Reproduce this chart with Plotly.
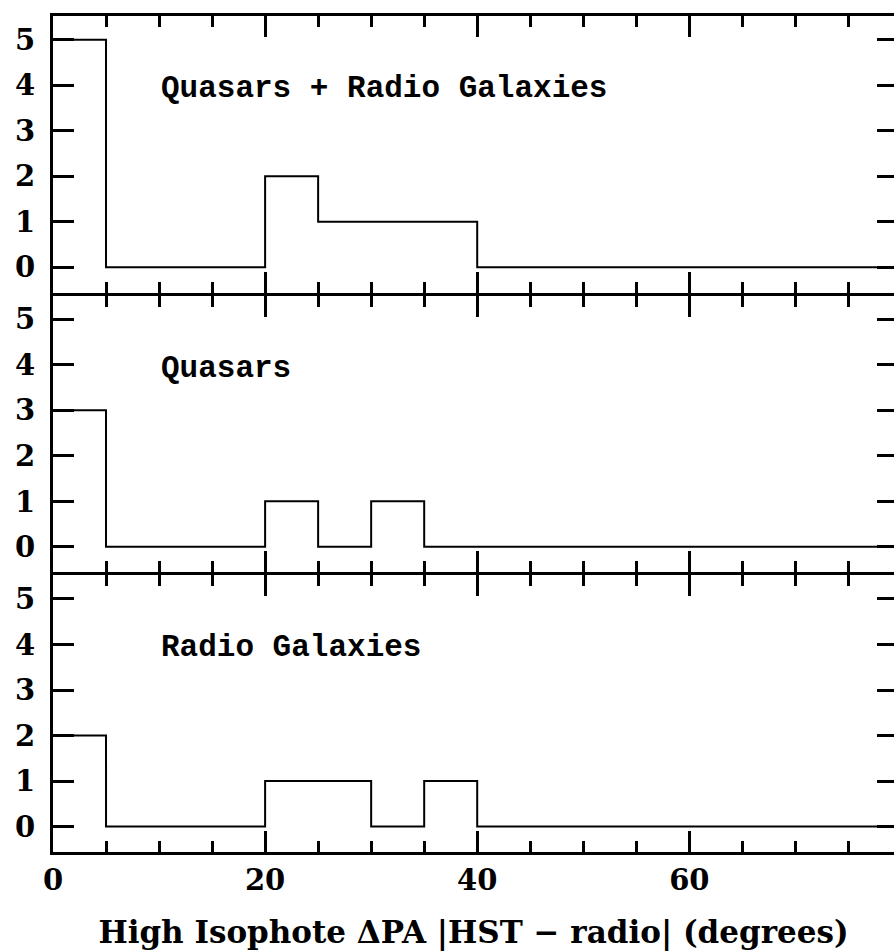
import plotly.graph_objects as go

# Bin edges (degrees) and histogram counts per 5-degree bin
bin_edges = [0, 5, 10, 15, 20, 25, 30, 35, 40, 45, 50, 55, 60, 65, 70, 75, 80]
counts_all = [5, 0, 0, 0, 2, 1, 1, 1, 0, 0, 0, 0, 0, 0, 0, 0]
counts_quasars = [3, 0, 0, 0, 1, 0, 1, 0, 0, 0, 0, 0, 0, 0, 0, 0]
counts_radio = [2, 0, 0, 0, 1, 1, 0, 1, 0, 0, 0, 0, 0, 0, 0, 0]

panel_labels = ["Quasars + Radio Galaxies", "Quasars", "Radio Galaxies"]
panel_counts = [counts_all, counts_quasars, counts_radio]

x_title = "High Isophote ΔPA |HST − radio| (degrees)"
x_tickvals = [0, 20, 40, 60]
y_tickvals = [0, 1, 2, 3, 4, 5]

XRANGE = [0, 79.3]
YRANGE = [-0.56, 5.52]

W, H = 894, 951
M_L, M_R, M_T, M_B = 53, 0, 16, 99
plot_h = H - M_T - M_B
gap = 3.0 / plot_h
n = len(panel_counts)
panel_frac = (1 - gap * (n - 1)) / n

fig = go.Figure()

tick_font = dict(family="DejaVu Serif", size=29, color="black", weight="bold")
label_font = dict(family="Liberation Mono, DejaVu Sans Mono, monospace", size=31, color="black", weight="bold")
title_font = dict(family="DejaVu Serif", size=31, color="black", weight="bold")

for i, (counts, label) in enumerate(zip(panel_counts, panel_labels)):
    idx = i + 1
    xa = "x" if idx == 1 else f"x{idx}"
    ya = "y" if idx == 1 else f"y{idx}"
    yr = f"y{idx + n}"
    ys = counts + [counts[-1]]
    fig.add_trace(go.Scatter(
        x=bin_edges, y=ys, mode="lines", line=dict(shape="hv", color="black", width=2),
        xaxis=xa, yaxis=ya, showlegend=False, hoverinfo="skip"))
    # invisible companion trace for the right-hand tick axis
    fig.add_trace(go.Scatter(
        x=bin_edges, y=ys, mode="lines", line=dict(width=0), opacity=0,
        xaxis=xa, yaxis=yr, showlegend=False, hoverinfo="skip"))

    top = min(1.0, max(0.0, 1 - i * (panel_frac + gap)))
    bottom = min(1.0, max(0.0, top - panel_frac))
    if i == n - 1:
        bottom = 0.0
    is_bottom = (i == n - 1)
    xkey = "xaxis" if idx == 1 else f"xaxis{idx}"
    ykey = "yaxis" if idx == 1 else f"yaxis{idx}"
    yrkey = f"yaxis{idx + n}"
    fig.update_layout({
        xkey: dict(
            domain=[0, 1], anchor=ya, range=XRANGE, showgrid=False, zeroline=False,
            showline=True, linecolor="black", linewidth=3, mirror="ticks",
            ticks="inside", ticklen=21, tickwidth=3, tickcolor="black",
            tickmode="array", tickvals=x_tickvals,
            minor=dict(dtick=5, ticks="inside", ticklen=11, tickwidth=3, tickcolor="black", showgrid=False),
            showticklabels=is_bottom, tickfont=tick_font,
            title=dict(text=x_title if is_bottom else "", font=title_font, standoff=26),
            matches=None if idx == 1 else "x",
        ),
        ykey: dict(
            domain=[bottom, top], anchor=xa, range=YRANGE, showgrid=False, zeroline=False,
            showline=True, linecolor="black", linewidth=3, mirror=False,
            ticks="inside", ticklen=21, tickwidth=3, tickcolor="black",
            tickmode="array", tickvals=y_tickvals, tickfont=tick_font,
            ticklabelstandoff=9,
        ),
        yrkey: dict(
            overlaying=ya, side="right", anchor=xa, range=YRANGE, showgrid=False,
            zeroline=False, showline=False, ticks="inside", ticklen=17, tickwidth=3,
            tickcolor="black", tickmode="array", tickvals=y_tickvals, showticklabels=False,
        ),
    })
    fig.add_annotation(
        x=10.0, y=3.93, xref=xa, yref=ya, text=label, showarrow=False,
        xanchor="left", yanchor="middle", font=label_font)

fig.update_layout(
    width=W, height=H,
    margin=dict(l=M_L, r=M_R, t=M_T, b=M_B),
    plot_bgcolor="white", paper_bgcolor="white",
    showlegend=False,
)

fig.write_html("out.html")
